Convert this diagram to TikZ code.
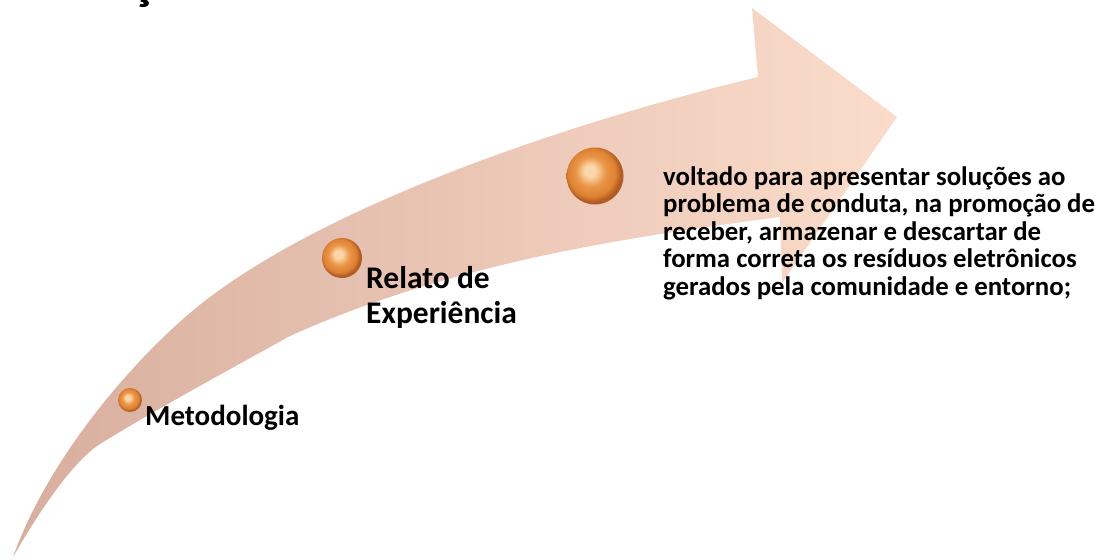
\documentclass[tikz,border=0pt]{standalone}
\usepackage{fontspec}
\setmainfont{Carlito}
\usepackage{tikz}
\definecolor{arrowdark}{RGB}{216,174,158}
\definecolor{arrowlight}{RGB}{251,220,203}
\definecolor{beadlight}{RGB}{252,214,168}
\definecolor{beadorange}{RGB}{234,150,72}
\definecolor{beadmid}{RGB}{222,128,50}
\definecolor{beaddark}{RGB}{176,92,36}
\pgfdeclareradialshading{beadshade}{\pgfpoint{-5bp}{5bp}}{color(0bp)=(beadlight); color(5bp)=(beadlight); color(13bp)=(beadorange); color(21bp)=(beadmid); color(25bp)=(beaddark); color(50bp)=(beaddark)}

\begin{document}
\begin{tikzpicture}[x=1pt,y=-1pt,
    bead/.style={circle,shading=beadshade,inner sep=0pt},
    label/.style={inner sep=0pt,align=left}]
    \useasboundingbox (0,0) rectangle (1096,560);
    % cut off title
    \node[font=\bfseries\fontsize{54}{54}\selectfont,anchor=base,inner sep=0pt] (title) at (143,-2) {ç};
    % curved arrow
    \path[left color=arrowdark,right color=arrowlight]
        (13,557) .. controls (48,459) and (130,364) .. (190,313)
        .. controls (310,211) and (558,125) .. (758,77)
        -- (752,8) -- (897,117) -- (782,283) -- (780,217)
        .. controls (620,238) and (450,264) .. (290,336)
        .. controls (225,372) and (155,410) .. (100,444)
        .. controls (70,463) and (33,522) .. (13,557)
        -- cycle;
    % beads
    \node[bead,minimum size=24pt] (b1) at (130,400) {};
    \node[bead,minimum size=40pt] (b2) at (342,258) {};
    \node[bead,minimum size=57pt] (b3) at (595,176) {};
    % texts
    \node[label,font=\bfseries\fontsize{29}{34}\selectfont,anchor=base west] (metodo) at (145,425) {Metodologia};
    \node[label,font=\bfseries\fontsize{31.5}{35}\selectfont,anchor=north west] (relato) at (366,266) {Relato de\\Experiência};
    \node[label,font=\bfseries\fontsize{26.8}{27.5}\selectfont,anchor=north west] (desc) at (663,166) {voltado para apresentar soluções ao\\problema de conduta, na promoção de\\receber, armazenar e descartar de\\forma correta os resíduos eletrônicos\\gerados pela comunidade e entorno;};
\end{tikzpicture}
\end{document}
